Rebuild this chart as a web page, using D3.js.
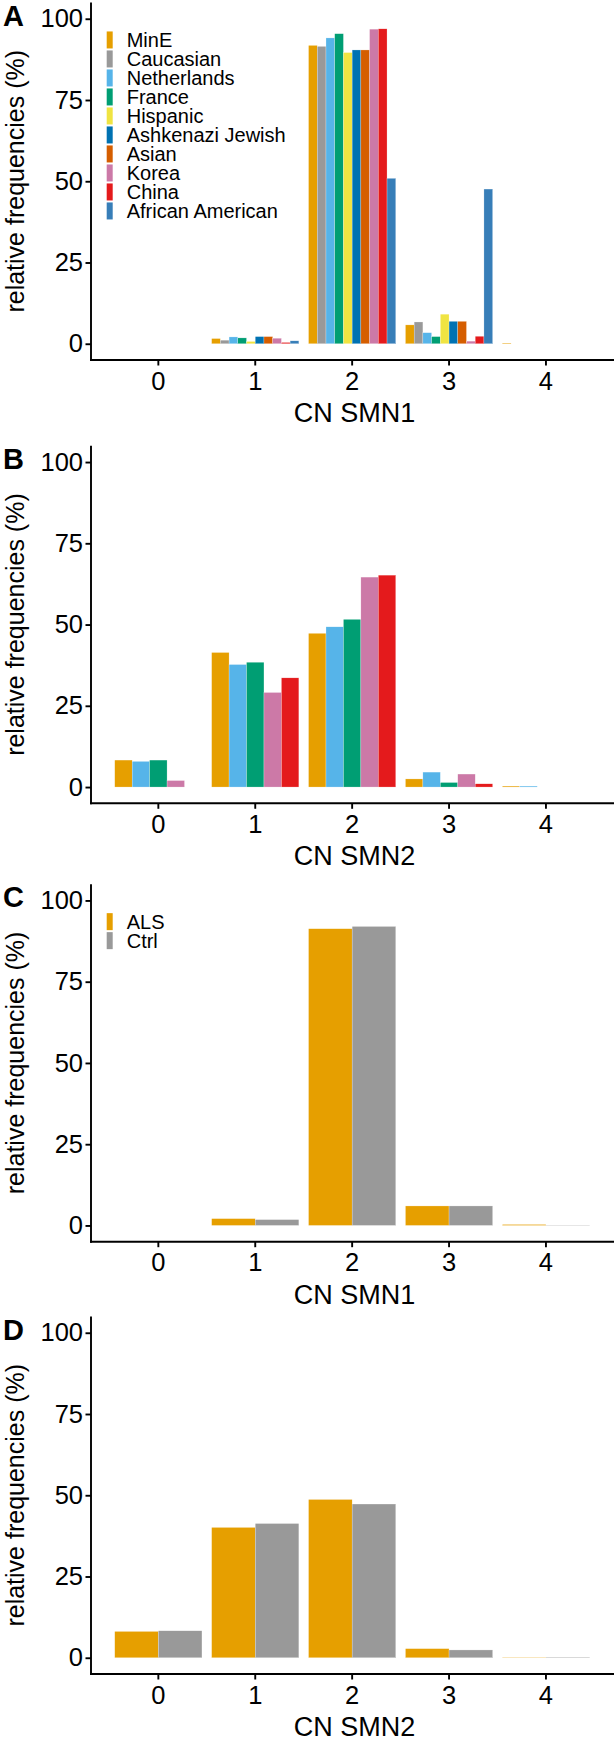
<!DOCTYPE html>
<html>
<head>
<meta charset="utf-8">
<script src="https://cdn.jsdelivr.net/npm/d3@7"></script>
<style>
html,body{margin:0;padding:0;background:#fff;}
svg{display:block;}
text{font-family:"Liberation Sans",Arial,Helvetica,sans-serif;fill:#000;}
</style>
</head>
<body>
<svg id="chart" width="614" height="1738"></svg>
<script>
// ---- data ----
const cnCategories = ["0", "1", "2", "3", "4"];
const yTicks = [0, 25, 50, 75, 100];

const popSeries = ["MinE", "Caucasian", "Netherlands", "France", "Hispanic",
  "Ashkenazi Jewish", "Asian", "Korea", "China", "African American"];
const popColors = ["#E69F00", "#999999", "#56B4E9", "#009E73", "#F0E442",
  "#0072B2", "#D55E00", "#CC79A7", "#E41A1C", "#377EB8"];

// Panel A: CN SMN1 by population (values per CN 0..4)
const smn1MinE = [0, 1.6, 91.8, 5.8, 0.2];
const smn1Caucasian = [0, 1.1, 91.5, 6.7, 0];
const smn1Netherlands = [0, 2.1, 94.1, 3.4, 0];
const smn1France = [0, 1.8, 95.4, 2.2, 0];
const smn1Hispanic = [0, 0.7, 89.6, 9.1, 0];
const smn1Ashkenazi = [0, 2.2, 90.4, 6.9, 0];
const smn1Asian = [0, 2.2, 90.4, 6.9, 0];
const smn1Korea = [0, 1.7, 96.8, 0.8, 0];
const smn1China = [0, 0.4, 96.9, 2.3, 0];
const smn1AfricanAmerican = [0, 0.9, 50.9, 47.6, 0];

// Panel B: CN SMN2 by population
const smn2Series = ["MinE", "Netherlands", "France", "Korea", "China"];
const smn2Colors = ["#E69F00", "#56B4E9", "#009E73", "#CC79A7", "#E41A1C"];
const smn2MinE = [8.3, 41.4, 47.3, 2.5, 0.3];
const smn2Netherlands = [7.9, 37.7, 49.3, 4.6, 0.3];
const smn2France = [8.3, 38.4, 51.6, 1.4, 0];
const smn2Korea = [2.0, 29.1, 64.6, 4.0, 0];
const smn2China = [0, 33.6, 65.2, 1.0, 0];

// Panels C/D: ALS vs Ctrl
const groupSeries = ["ALS", "Ctrl"];
const groupColors = ["#E69F00", "#999999"];
const smn1ALS = [0, 2.1, 91.3, 6.0, 0.3];
const smn1Ctrl = [0, 1.8, 92.0, 6.0, 0.1];
const smn2ALS = [8.1, 40.1, 48.7, 2.8, 0.1];
const smn2Ctrl = [8.3, 41.3, 47.3, 2.4, 0.15];

// ---- layout ----
const svg = d3.select("#chart");
const axisLeftX = 91, axisRightX = 614;
const unitPx = 3.25;

const panels = [
  { letter: "A", axisY: 360, xTitle: "CN SMN1", series: popSeries, colors: popColors,
    values: [smn1MinE, smn1Caucasian, smn1Netherlands, smn1France, smn1Hispanic,
             smn1Ashkenazi, smn1Asian, smn1Korea, smn1China, smn1AfricanAmerican], legend: true },
  { letter: "B", axisY: 803.3, xTitle: "CN SMN2", series: smn2Series, colors: smn2Colors,
    values: [smn2MinE, smn2Netherlands, smn2France, smn2Korea, smn2China], legend: false },
  { letter: "C", axisY: 1241.7, xTitle: "CN SMN1", series: groupSeries, colors: groupColors,
    values: [smn1ALS, smn1Ctrl], legend: true },
  { letter: "D", axisY: 1674, xTitle: "CN SMN2", series: groupSeries, colors: groupColors,
    values: [smn2ALS, smn2Ctrl], legend: false }
];

const x = d3.scaleBand().domain(cnCategories).range([100.2, 604.1])
  .paddingInner(0.1).paddingOuter(0.15);

panels.forEach(p => {
  const g = svg.append("g");
  const top = p.axisY - 110 * unitPx;
  const y = d3.scaleLinear().domain([-5, 105]).range([p.axisY, top]);
  const xs = d3.scaleBand().domain(p.series).range([0, x.bandwidth()]);
  const color = d3.scaleOrdinal().domain(p.series).range(p.colors);

  // bars
  const rows = [];
  p.series.forEach((s, si) => {
    cnCategories.forEach((c, ci) => rows.push({ s, c, v: p.values[si][ci] }));
  });
  g.append("g").selectAll("rect").data(rows.filter(d => d.v > 0)).join("rect")
    .attr("x", d => x(d.c) + xs(d.s))
    .attr("width", xs.bandwidth())
    .attr("y", d => y(d.v))
    .attr("height", d => y(0) - y(d.v))
    .attr("fill", d => color(d.s))
    .attr("stroke", "#fff").attr("stroke-width", 0.4).attr("stroke-opacity", 0.6);

  // y axis
  const ya = g.append("g").attr("transform", `translate(${axisLeftX},0)`)
    .call(d3.axisLeft(y).tickValues(yTicks).tickSize(5.5).tickPadding(2.5));
  ya.select(".domain").remove();
  ya.selectAll(".tick line").attr("stroke", "#000").attr("stroke-width", 1.9);
  ya.selectAll(".tick text").attr("font-size", 25.5).attr("font-family", null).attr("fill", "#000");

  // x axis
  const xa = g.append("g").attr("transform", `translate(0,${p.axisY})`)
    .call(d3.axisBottom(x).tickSize(5.5).tickPadding(6));
  xa.select(".domain").remove();
  xa.selectAll(".tick line").attr("stroke", "#000").attr("stroke-width", 1.9);
  xa.selectAll(".tick text").attr("font-size", 25.5).attr("font-family", null).attr("fill", "#000");

  // axis lines
  g.append("line").attr("x1", axisLeftX).attr("x2", axisLeftX)
    .attr("y1", top).attr("y2", p.axisY + 0.95)
    .attr("stroke", "#000").attr("stroke-width", 1.9);
  g.append("line").attr("x1", axisLeftX - 0.95).attr("x2", axisRightX)
    .attr("y1", p.axisY).attr("y2", p.axisY)
    .attr("stroke", "#000").attr("stroke-width", 1.9);

  // titles
  g.append("text").attr("x", (axisLeftX + axisRightX) / 2 + 2).attr("y", p.axisY + 62)
    .attr("text-anchor", "middle").attr("font-size", 27).text(p.xTitle);
  g.append("text")
    .attr("transform", `translate(23.5,${(top + p.axisY) / 2}) rotate(-90)`)
    .attr("text-anchor", "middle").attr("font-size", 25).text("relative frequencies (%)");

  // panel letter
  g.append("text").attr("x", 3).attr("y", y(100) + 7)
    .attr("font-size", 29).attr("font-weight", "bold").text(p.letter);

  // legend
  if (p.legend) {
    const lg = g.append("g");
    const step = 19;
    const y0 = y(100) + 12.7;
    p.series.forEach((s, i) => {
      lg.append("rect").attr("x", 106.7).attr("y", y0 + i * step)
        .attr("width", 6).attr("height", 17).attr("fill", color(s));
      lg.append("text").attr("x", 126.7).attr("y", y0 + i * step + 8.5)
        .attr("dy", "0.35em").attr("font-size", 20).text(s);
    });
  }
});
</script>
</body>
</html>
